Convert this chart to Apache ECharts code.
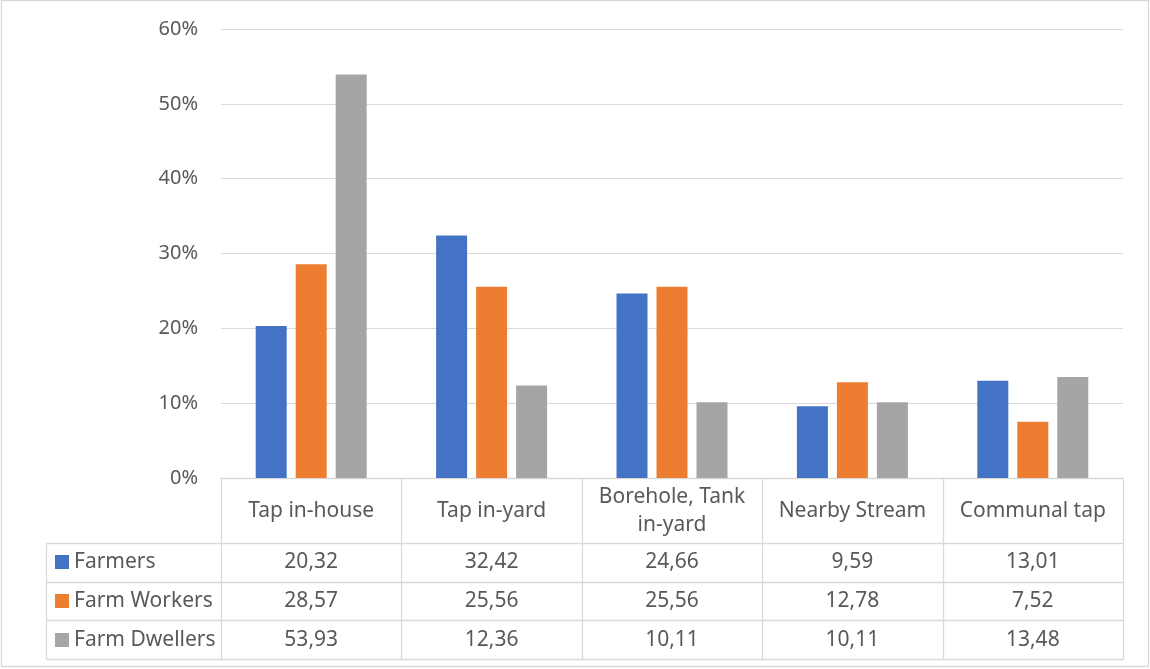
<!DOCTYPE html>
<html>
<head>
<meta charset="utf-8">
<script src="https://cdn.jsdelivr.net/npm/echarts@6/dist/echarts.min.js"></script>
<style>
  html, body { margin: 0; padding: 0; background: #fff; }
  #chart { width: 1150px; height: 669px; }
</style>
</head>
<body>
<div id="chart"></div>
<script>
// Water source categories and the share (%) of each group using them
const categories = ['Tap in-house', 'Tap in-yard', 'Borehole, Tank\nin-yard', 'Nearby Stream', 'Communal tap'];
const seriesNames = ['Farmers', 'Farm Workers', 'Farm Dwellers'];
const farmers = [20.32, 32.42, 24.66, 9.59, 13.01];
const farmWorkers = [28.57, 25.56, 25.56, 12.78, 7.52];
const farmDwellers = [53.93, 12.36, 10.11, 10.11, 13.48];
const yTicks = [0, 10, 20, 30, 40, 50, 60];

const colors = ['#4472C4', '#ED7D31', '#A5A5A5'];
const seriesData = [farmers, farmWorkers, farmDwellers];
const textColor = '#595959';
const lineColor = '#D9D9D9';
const fontFamily = '"Noto Sans", sans-serif';
const axisFontSize = 20;
const tableFontSize = 21;

const fmt = v => v.toFixed(2).replace('.', ',');

const chart = echarts.init(document.getElementById('chart'), null, { renderer: 'canvas' });

chart.setOption({
  animation: false,
  textStyle: { fontFamily: fontFamily },
  grid: { left: 221, right: 27, top: 29, bottom: 191 },
  xAxis: {
    type: 'category',
    data: categories,
    axisLine: { show: true, lineStyle: { color: lineColor, width: 1 } },
    axisTick: { show: false },
    axisLabel: { show: false }
  },
  yAxis: {
    type: 'value',
    min: yTicks[0],
    max: yTicks[yTicks.length - 1],
    interval: 10,
    axisLine: { show: false },
    axisTick: { show: false },
    splitLine: { lineStyle: { color: lineColor, width: 1 } },
    axisLabel: {
      color: textColor,
      fontSize: axisFontSize,
      fontFamily: fontFamily,
      margin: 23,
      formatter: '{value}%'
    }
  },
  series: seriesNames.map((name, i) => ({
    name: name,
    type: 'bar',
    data: seriesData[i],
    barWidth: 31,
    barGap: '29%',
    itemStyle: { color: colors[i] }
  }))
});

// Data table beneath the plot, positioned from the axis scales
function buildTable() {
  const c0 = chart.convertToPixel({ xAxisIndex: 0 }, 0);
  const c1 = chart.convertToPixel({ xAxisIndex: 0 }, 1);
  const band = c1 - c0;
  const left = c0 - band / 2;
  const right = left + band * categories.length;
  const top = chart.convertToPixel({ yAxisIndex: 0 }, 0);
  const headerH = 65;
  const rowH = 38.7;
  const tableLeft = 46;
  const rowsTop = top + headerH;
  const bottom = rowsTop + rowH * seriesNames.length;
  const els = [];
  const crisp = v => Math.round(v) + 0.5;

  const line = (x1, y1, x2, y2) => els.push({
    type: 'line', silent: true,
    shape: { x1: crisp(x1), y1: crisp(y1), x2: crisp(x2), y2: crisp(y2) },
    style: { stroke: lineColor, lineWidth: 1.3 }
  });
  const text = (x, y, str, align) => els.push({
    type: 'text', silent: true, x: x, y: y,
    style: {
      text: str, fill: textColor, font: tableFontSize + 'px ' + fontFamily,
      align: align || 'center', verticalAlign: 'middle', lineHeight: 28
    }
  });

  // horizontal rules
  line(left, top, right, top);
  for (let r = 0; r <= seriesNames.length; r++) {
    const y = rowsTop + rowH * r;
    line(tableLeft, y, right, y);
  }
  // vertical rules
  line(tableLeft, rowsTop, tableLeft, bottom);
  for (let c = 0; c <= categories.length; c++) {
    const x = left + band * c;
    line(x, top, x, bottom);
  }
  // header row
  categories.forEach((cat, c) => {
    text(left + band * (c + 0.5), top + headerH / 2 + 1, cat);
  });
  // series rows with legend keys and values
  seriesNames.forEach((name, r) => {
    const cy = rowsTop + rowH * (r + 0.5);
    els.push({
      type: 'rect', silent: true,
      shape: { x: 55, y: Math.round(cy) - 7, width: 14, height: 14 },
      style: { fill: colors[r] }
    });
    text(74, cy, name, 'left');
    seriesData[r].forEach((v, c) => {
      text(left + band * (c + 0.5), cy, fmt(v));
    });
  });
  // chart frame
  els.push({
    type: 'rect', silent: true,
    shape: { x: 1.5, y: 0.5, width: 1147, height: 666 },
    style: { fill: null, stroke: lineColor, lineWidth: 1.3 }
  });
  chart.setOption({ graphic: els });
}
buildTable();
</script>
</body>
</html>
